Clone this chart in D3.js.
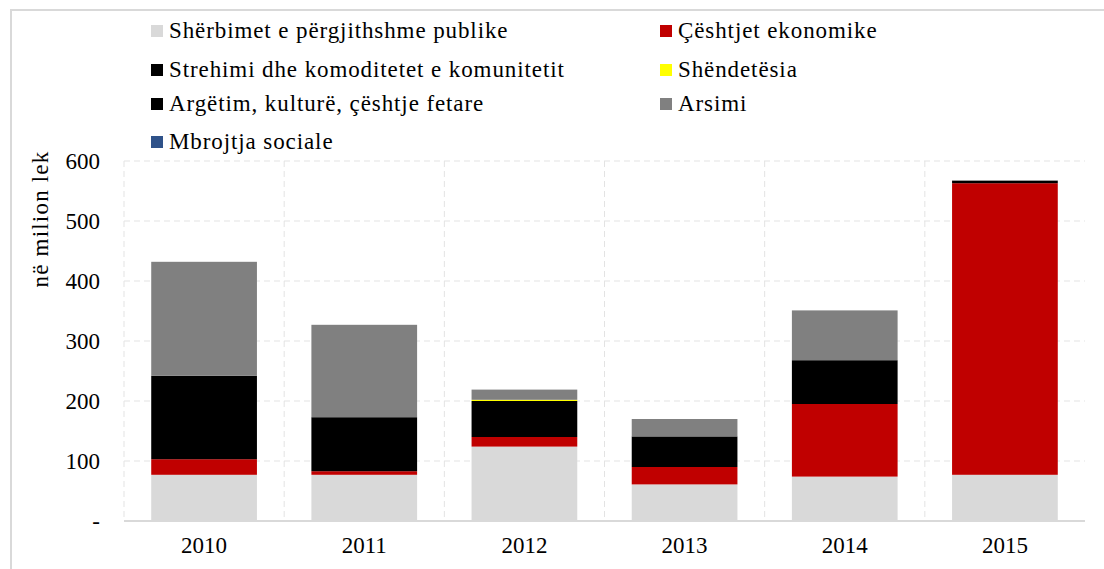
<!DOCTYPE html>
<html>
<head>
<meta charset="utf-8">
<script src="https://cdn.jsdelivr.net/npm/d3@7"></script>
<style>
body { margin: 0; background: #fff; }
svg text { font-family: "Liberation Serif", "Times New Roman", serif; fill: #000; }
</style>
</head>
<body>
<svg id="chart" width="1104" height="569"></svg>
<script>
// years on the x axis
var years = ["2010", "2011", "2012", "2013", "2014", "2015"];

// series, in legend order (bottom of stack first)
var seriesNames = [
    "Shërbimet e përgjithshme publike",
    "Çështjet ekonomike",
    "Strehimi dhe komoditetet e komunitetit",
    "Shëndetësia",
    "Argëtim, kulturë, çështje fetare",
    "Arsimi",
    "Mbrojtja sociale"
];
var seriesColors = ["#d9d9d9", "#c00000", "#000000", "#ffff00", "#000000", "#808080", "#2f5289"];

// values in million lek
var sherbimet = [77, 77, 124, 61, 74, 77];
var ceshtjet  = [26, 6, 16, 29, 121, 486];
var strehimi  = [139, 90, 60, 51, 73, 4];
var shendetesia = [0, 0, 2, 0, 0, 0];
var argetim   = [0, 0, 0, 0, 0, 0];
var arsimi    = [190, 154, 17, 29, 83, 1];
var mbrojtja  = [0, 0, 0, 0, 0, 0];

var yTicks = [0, 100, 200, 300, 400, 500, 600];

var seriesValues = [sherbimet, ceshtjet, strehimi, shendetesia, argetim, arsimi, mbrojtja];

var rows = years.map(function(year, i)
{
    var row = { year: year };
    seriesNames.forEach(function(name, s) { row[name] = seriesValues[s][i]; });
    return row;
});

var svg = d3.select("#chart");

// outer frame
svg.append("rect")
    .attr("x", 11).attr("y", 10)
    .attr("width", 1104).attr("height", 580)
    .attr("fill", "none").attr("stroke", "#d9d9d9").attr("stroke-width", 2);

var plotLeft = 124, plotRight = 1085, plotTop = 161, plotBottom = 521;

var xScale = d3.scaleBand().domain(years).range([plotLeft, plotRight]).paddingInner(0.34).paddingOuter(0.17);
var yScale = d3.scaleLinear().domain([0, 600]).range([plotBottom, plotTop]);

// gridlines
svg.append("g").selectAll("line").data(yTicks.slice(1)).enter().append("line")
    .attr("x1", plotLeft).attr("x2", plotRight)
    .attr("y1", function(d) { return yScale(d); })
    .attr("y2", function(d) { return yScale(d); })
    .attr("stroke", "#e3e3e3").attr("stroke-dasharray", "6,4");

var step = xScale.step();
svg.append("g").selectAll("line").data(years).enter().append("line")
    .attr("x1", function(d) { return xScale(d) - xScale.paddingOuter() * step; })
    .attr("x2", function(d) { return xScale(d) - xScale.paddingOuter() * step; })
    .attr("y1", plotTop).attr("y2", plotBottom)
    .attr("stroke", "#e3e3e3").attr("stroke-dasharray", "6,4");

// stacked bars
var stack = d3.stack().keys(seriesNames);
var layers = stack(rows);

svg.append("g").selectAll("g").data(layers).enter().append("g")
    .attr("fill", function(d, i) { return seriesColors[i]; })
    .selectAll("rect").data(function(d) { return d; }).enter().append("rect")
    .attr("x", function(d) { return xScale(d.data.year); })
    .attr("width", xScale.bandwidth())
    .attr("y", function(d) { return yScale(d[1]); })
    .attr("height", function(d) { return yScale(d[0]) - yScale(d[1]); });

// x axis line
svg.append("line")
    .attr("x1", plotLeft).attr("x2", plotRight)
    .attr("y1", plotBottom).attr("y2", plotBottom)
    .attr("stroke", "#d9d9d9").attr("stroke-width", 2);

// y axis
var yAxis = d3.axisLeft(yScale).tickValues(yTicks).tickSize(0).tickPadding(0)
    .tickFormat(function(d) { return d === 0 ? "-" : d; });
var yg = svg.append("g").attr("transform", "translate(100,0)").call(yAxis);
yg.select(".domain").remove();
yg.selectAll("text").attr("font-size", 23).attr("font-family", "Liberation Serif").attr("fill", "#000");

// x axis labels
var xAxis = d3.axisBottom(xScale).tickSize(0).tickPadding(16);
var xg = svg.append("g").attr("transform", "translate(0," + plotBottom + ")").call(xAxis);
xg.select(".domain").remove();
xg.selectAll("text").attr("font-size", 23).attr("font-family", "Liberation Serif").attr("fill", "#000");

// y axis title
svg.append("text")
    .attr("transform", "translate(48,219) rotate(-90)")
    .attr("text-anchor", "middle")
    .attr("font-size", 23)
    .attr("letter-spacing", 1.2)
    .text("në milion lek");

// legend
var legendPos = [[151, 31], [660, 31], [151, 70], [660, 70], [151, 104], [660, 104], [151, 142]];
var legend = svg.append("g").selectAll("g").data(seriesNames).enter().append("g")
    .attr("transform", function(d, i) { return "translate(" + legendPos[i][0] + "," + legendPos[i][1] + ")"; });
legend.append("rect")
    .attr("x", 0).attr("y", -6).attr("width", 12).attr("height", 12)
    .attr("fill", function(d, i) { return seriesColors[i]; });
legend.append("text")
    .attr("x", 18).attr("y", 7)
    .attr("font-size", 23)
    .attr("letter-spacing", 0.9)
    .text(function(d) { return d; });
</script>
</body>
</html>
